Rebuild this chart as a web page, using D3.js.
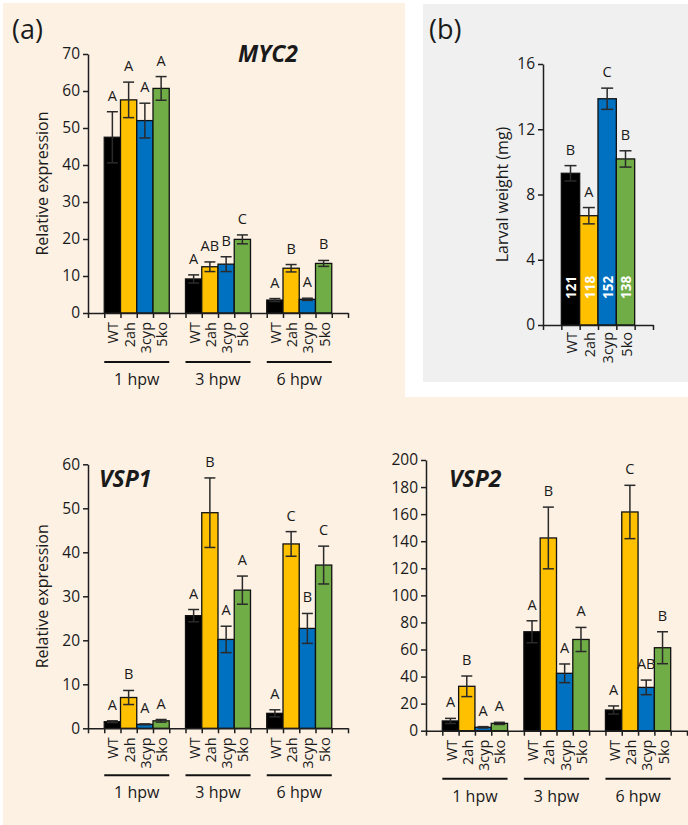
<!DOCTYPE html>
<html>
<head>
<meta charset="utf-8">
<script src="https://cdn.jsdelivr.net/npm/d3@7"></script>
<style>
  html, body { margin: 0; padding: 0; background: #ffffff; }
  svg { display: block; }
  text { font-family: "Open Sans", "DejaVu Sans", sans-serif; fill: #1a1a1a; }
</style>
</head>
<body>
<svg id="chart" width="688" height="825"></svg>
<script>
// ---------------- DATA ----------------
const genotypes = ["WT", "2ah", "3cyp", "5ko"];
const timepoints = ["1 hpw", "3 hpw", "6 hpw"];
const barColors = ["#000000", "#FFC000", "#0070C0", "#70AD47"];

const myc2Mean = [[47.5, 57.6, 52.0, 60.7], [9.2, 12.5, 13.2, 19.9], [3.5, 12.1, 3.7, 13.4]];
const myc2Err = [[6.9, 4.8, 4.7, 3.2], [1.1, 1.3, 2.0, 1.2], [0.4, 1.0, 0.3, 0.8]];
const myc2Letters = [["A", "A", "A", "A"], ["A", "AB", "B", "C"], ["A", "B", "A", "B"]];
const myc2Ticks = [0, 10, 20, 30, 40, 50, 60, 70];

const vsp1Mean = [[1.5, 7.0, 0.9, 1.7], [25.6, 49.0, 20.2, 31.4], [3.4, 41.9, 22.7, 37.1]];
const vsp1Err = [[0.2, 1.6, 0.1, 0.3], [1.4, 7.9, 3.0, 3.2], [0.8, 2.8, 3.4, 4.3]];
const vsp1Letters = [["A", "B", "A", "A"], ["A", "B", "A", "A"], ["A", "C", "B", "C"]];
const vsp1Ticks = [0, 10, 20, 30, 40, 50, 60];

const vsp2Mean = [[7.2, 32.8, 2.5, 5.4], [73.1, 142.4, 42.4, 67.4], [15.3, 161.6, 32.0, 61.3]];
const vsp2Err = [[1.9, 7.6, 0.5, 0.8], [8.1, 22.8, 6.9, 8.9], [3.0, 19.7, 5.4, 11.8]];
const vsp2Letters = [["A", "B", "A", "A"], ["A", "B", "A", "A"], ["A", "C", "AB", "B"]];
const vsp2Ticks = [0, 20, 40, 60, 80, 100, 120, 140, 160, 180, 200];

const larvalMean = [9.3, 6.7, 13.87, 10.18];
const larvalErr = [0.47, 0.5, 0.65, 0.5];
const larvalLetters = ["B", "A", "C", "B"];
const larvalN = ["121", "118", "152", "138"];
const larvalTicks = [0, 4, 8, 12, 16];

// ---------------- DRAW ----------------
const svg = d3.select("#chart");
const AXIS = "#1e1e1e", ERR = "#2a2a2a";

// backgrounds
svg.append("rect").attr("x", 3).attr("y", 3).attr("width", 685).attr("height", 822).attr("fill", "#FDF1E4");
svg.append("rect").attr("x", 405).attr("y", 0).attr("width", 283).attr("height", 397).attr("fill", "#ffffff");
svg.append("rect").attr("x", 423).attr("y", 4).attr("width", 265).attr("height", 378).attr("fill", "#F0F0F0");

svg.append("text").attr("x", 12).attr("y", 39).attr("font-size", 27).text("(a)");
svg.append("text").attr("x", 429).attr("y", 39).attr("font-size", 27).text("(b)");

function styleAxis(g) {
  g.select(".domain").attr("stroke", AXIS).attr("stroke-width", 1.5);
  g.selectAll(".tick line").attr("stroke", AXIS).attr("stroke-width", 1.5);
  g.selectAll(".tick text").attr("font-size", 15.5).attr("fill", "#1a1a1a")
    .style("font-family", "'Open Sans', sans-serif");
}

function drawGrouped(cfg) {
  const g = svg.append("g");
  const keys = ["pad0"];
  timepoints.forEach((t, i) => { genotypes.forEach(gt => keys.push(t + "|" + gt)); keys.push("pad" + (i + 1)); });
  const xb = d3.scaleBand().domain(keys).range([cfg.x0, cfg.x1]).padding(0);
  const xi = d3.scaleLinear().domain([0, keys.length]).range([cfg.x0, cfg.x1]);
  const ticks = cfg.ticks;
  const y = d3.scaleLinear().domain([0, ticks[ticks.length - 1]]).range([cfg.yZero, cfg.yTop]);

  const rows = [];
  timepoints.forEach((t, i) => genotypes.forEach((gt, j) => rows.push({
    key: t + "|" + gt, gt, j, mean: cfg.means[i][j], err: cfg.errs[i][j], letter: cfg.letters[i][j]
  })));

  g.selectAll("rect.bar").data(rows).join("rect").attr("class", "bar")
    .attr("x", d => xb(d.key)).attr("width", xb.bandwidth())
    .attr("y", d => y(d.mean)).attr("height", d => y(0) - y(d.mean))
    .attr("fill", d => barColors[d.j]).attr("stroke", "#111").attr("stroke-width", 1.3);

  const cap = 5.5;
  const eb = g.selectAll("g.err").data(rows).join("g").attr("class", "err")
    .attr("stroke", ERR).attr("stroke-width", 1.5);
  eb.append("line").attr("x1", d => xb(d.key) + xb.bandwidth() / 2).attr("x2", d => xb(d.key) + xb.bandwidth() / 2)
    .attr("y1", d => y(d.mean - d.err)).attr("y2", d => y(d.mean + d.err));
  eb.append("line").attr("x1", d => xb(d.key) + xb.bandwidth() / 2 - cap).attr("x2", d => xb(d.key) + xb.bandwidth() / 2 + cap)
    .attr("y1", d => y(d.mean + d.err)).attr("y2", d => y(d.mean + d.err));
  eb.append("line").attr("x1", d => xb(d.key) + xb.bandwidth() / 2 - cap).attr("x2", d => xb(d.key) + xb.bandwidth() / 2 + cap)
    .attr("y1", d => y(d.mean - d.err)).attr("y2", d => y(d.mean - d.err));

  g.selectAll("text.letter").data(rows).join("text").attr("class", "letter")
    .attr("x", d => xb(d.key) + xb.bandwidth() / 2).attr("y", d => y(d.mean + d.err) - 11)
    .attr("text-anchor", "middle").attr("font-size", 14.5).text(d => d.letter);

  // axes
  const gx = g.append("g").attr("transform", `translate(0,${cfg.yZero})`)
    .call(d3.axisBottom(xi).tickValues(d3.range(0, keys.length + 1)).tickFormat("").tickSize(5).tickSizeOuter(0));
  styleAxis(gx);
  const gy = g.append("g").attr("transform", `translate(${cfg.x0},0)`)
    .call(d3.axisLeft(y).tickValues(ticks).tickSize(5).tickSizeOuter(0));
  styleAxis(gy);

  // category labels
  g.selectAll("text.cat").data(rows).join("text").attr("class", "cat")
    .attr("transform", d => `translate(${xb(d.key) + xb.bandwidth() / 2 + 1},${cfg.yZero + 9}) rotate(-90)`)
    .attr("text-anchor", "end").attr("dy", "0.35em").attr("font-size", 14.5).text(d => d.gt);

  // group underline + labels
  timepoints.forEach((t, i) => {
    const a = xb(t + "|" + genotypes[0]), b = xb(t + "|" + genotypes[3]) + xb.bandwidth();
    g.append("line").attr("x1", a).attr("x2", b).attr("y1", cfg.yZero + cfg.ul).attr("y2", cfg.yZero + cfg.ul)
      .attr("stroke", "#111").attr("stroke-width", 2);
    g.append("text").attr("x", (a + b) / 2).attr("y", cfg.yZero + cfg.ul + 23)
      .attr("text-anchor", "middle").attr("font-size", 16).text(t);
  });

  // title
  g.append("text").attr("x", cfg.titleX).attr("y", cfg.titleY).attr("font-size", 23)
    .attr("font-weight", "bold").attr("font-style", "italic").text(cfg.title);

  if (cfg.ylabel) {
    g.append("text").attr("transform", `translate(${cfg.ylabelX},${(cfg.yZero + cfg.yTop) / 2}) rotate(-90)`)
      .attr("text-anchor", "middle").attr("dy", "0.35em").attr("font-size", 16).text(cfg.ylabel);
  }
}

drawGrouped({ x0: 88, x1: 348, yTop: 54, yZero: 313, ticks: myc2Ticks, means: myc2Mean, errs: myc2Err,
  letters: myc2Letters, title: "MYC2", titleX: 238, titleY: 62, ylabel: "Relative expression", ylabelX: 42, ul: 49 });
drawGrouped({ x0: 88, x1: 348, yTop: 464.3, yZero: 728.3, ticks: vsp1Ticks, means: vsp1Mean, errs: vsp1Err,
  letters: vsp1Letters, title: "VSP1", titleX: 99, titleY: 487, ylabel: "Relative expression", ylabelX: 42, ul: 47 });
drawGrouped({ x0: 426, x1: 687, yTop: 460, yZero: 730.7, ticks: vsp2Ticks, means: vsp2Mean, errs: vsp2Err,
  letters: vsp2Letters, title: "VSP2", titleX: 449, titleY: 487, ylabel: null, ul: 48 });

// ---------------- PANEL (b) ----------------
(function () {
  const g = svg.append("g");
  const x0 = 543, x1 = 653, yZero = 325, yTop = 64;
  const keys = ["pad0", ...genotypes, "pad1"];
  const xb = d3.scaleBand().domain(keys).range([x0, x1]).padding(0);
  const xi = d3.scaleLinear().domain([0, keys.length]).range([x0, x1]);
  const y = d3.scaleLinear().domain([0, larvalTicks[larvalTicks.length - 1]]).range([yZero, yTop]);
  const rows = genotypes.map((gt, j) => ({ gt, j, mean: larvalMean[j], err: larvalErr[j], letter: larvalLetters[j], n: larvalN[j] }));

  g.selectAll("rect.bar").data(rows).join("rect")
    .attr("x", d => xb(d.gt)).attr("width", xb.bandwidth())
    .attr("y", d => y(d.mean)).attr("height", d => y(0) - y(d.mean))
    .attr("fill", d => barColors[d.j]).attr("stroke", "#111").attr("stroke-width", 1.3);

  const cap = 6;
  const cx = d => xb(d.gt) + xb.bandwidth() / 2;
  const eb = g.selectAll("g.err").data(rows).join("g").attr("stroke", ERR).attr("stroke-width", 1.5);
  eb.append("line").attr("x1", cx).attr("x2", cx).attr("y1", d => y(d.mean - d.err)).attr("y2", d => y(d.mean + d.err));
  eb.append("line").attr("x1", d => cx(d) - cap).attr("x2", d => cx(d) + cap).attr("y1", d => y(d.mean + d.err)).attr("y2", d => y(d.mean + d.err));
  eb.append("line").attr("x1", d => cx(d) - cap).attr("x2", d => cx(d) + cap).attr("y1", d => y(d.mean - d.err)).attr("y2", d => y(d.mean - d.err));

  g.selectAll("text.letter").data(rows).join("text")
    .attr("x", cx).attr("y", d => y(d.mean + d.err) - 11)
    .attr("text-anchor", "middle").attr("font-size", 14.5).text(d => d.letter);

  g.selectAll("text.n").data(rows).join("text")
    .attr("transform", d => `translate(${cx(d) + 1},${yZero - 26}) rotate(-90)`)
    .attr("text-anchor", "start").attr("dy", "0.35em").attr("font-size", 13.5).attr("font-weight", "bold")
    .style("fill", "#ffffff").text(d => d.n);

  const gx = g.append("g").attr("transform", `translate(0,${yZero})`)
    .call(d3.axisBottom(xi).tickValues(d3.range(0, keys.length + 1)).tickFormat("").tickSize(5).tickSizeOuter(0));
  styleAxis(gx);
  const gy = g.append("g").attr("transform", `translate(${x0},0)`)
    .call(d3.axisLeft(y).tickValues(larvalTicks).tickSize(5).tickSizeOuter(0));
  styleAxis(gy);

  g.selectAll("text.cat").data(rows).join("text")
    .attr("transform", d => `translate(${cx(d) + 1},${yZero + 7}) rotate(-90)`)
    .attr("text-anchor", "end").attr("dy", "0.35em").attr("font-size", 14.5).text(d => d.gt);

  g.append("text").attr("transform", `translate(502,${(yZero + yTop) / 2}) rotate(-90)`)
    .attr("text-anchor", "middle").attr("dy", "0.35em").attr("font-size", 16).text("Larval weight (mg)");
})();
</script>
</body>
</html>
